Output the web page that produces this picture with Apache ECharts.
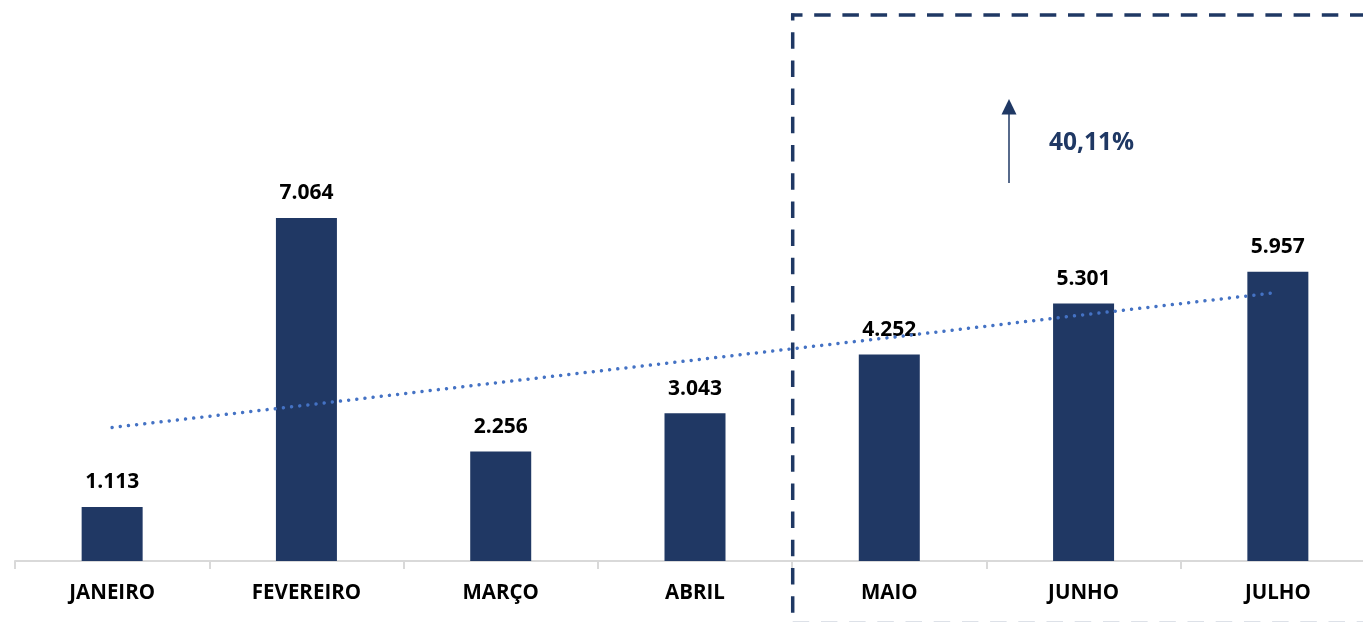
<!DOCTYPE html>
<html>
<head>
<meta charset="utf-8">
<script src="https://cdn.jsdelivr.net/npm/echarts@6/dist/echarts.min.js"></script>
<style>
html,body{margin:0;padding:0;background:#fff;}
#chart{width:1363px;height:622px;}
</style>
</head>
<body>
<div id="chart"></div>
<script>
var months = ['JANEIRO','FEVEREIRO','MARÇO','ABRIL','MAIO','JUNHO','JULHO'];
var values = [1.113, 7.064, 2.256, 3.043, 4.252, 5.301, 5.957];
var trendValues = [2.75, 3.21, 3.68, 4.14, 4.60, 5.07, 5.53];
var growthLabel = '40,11%';

function fmt(v){ return v.toFixed(3); }

var navy = '#1f3864';
var dash = [16.5, 11.7];

var chart = echarts.init(document.getElementById('chart'));
chart.setOption({
  animation: false,
  backgroundColor: '#ffffff',
  grid: { left: 15, right: -12, top: 172.5, bottom: 61, outerBoundsMode: 'none', containLabel: false },
  xAxis: {
    type: 'category',
    data: months,
    axisLine: { show: true, lineStyle: { color: '#d9d9d9', width: 2 } },
    axisTick: { show: true, length: 8, lineStyle: { color: '#d9d9d9', width: 2 } },
    axisLabel: { color: '#000', fontFamily: 'Open Sans', fontWeight: 'bold', fontSize: 20.5, margin: 22 }
  },
  yAxis: {
    type: 'value', min: 0, max: 8, show: false,
    splitLine: { show: false }
  },
  series: [
    {
      type: 'bar',
      data: values,
      barWidth: 61,
      itemStyle: { color: '#203864' },
      label: {
        show: true, position: 'top', distance: 14,
        color: '#000', fontFamily: 'Open Sans', fontWeight: 'bold', fontSize: 21,
        formatter: function(p){ return fmt(p.value); }
      },
      z: 2
    },
    {
      type: 'line',
      data: trendValues,
      symbol: 'none',
      silent: true,
      lineStyle: { color: '#4472C4', width: 3.5, type: [0.01, 8.2], cap: 'round' },
      z: 3
    }
  ],
  graphic: [
    {
      type: 'line',
      shape: { x1: 791, y1: 15, x2: 1380, y2: 15 },
      style: { stroke: navy, lineWidth: 3.5, lineDash: dash, lineDashOffset: 5 },
      z: 10
    },
    {
      type: 'line',
      shape: { x1: 792.7, y1: 13.5, x2: 792.7, y2: 640 },
      style: { stroke: navy, lineWidth: 3.5, lineDash: dash, lineDashOffset: 9.5 },
      z: 10
    },
    {
      type: 'line',
      shape: { x1: 792.7, y1: 623.6, x2: 1380, y2: 623.6 },
      style: { stroke: navy, lineWidth: 3.5, lineDash: dash, lineDashOffset: 0, opacity: 0.6 },
      z: 10
    },
    {
      type: 'line',
      shape: { x1: 1009, y1: 183, x2: 1009, y2: 112 },
      style: { stroke: navy, lineWidth: 1.5 },
      z: 10
    },
    {
      type: 'polygon',
      shape: { points: [[1001.5, 114.5], [1016.5, 114.5], [1009, 99]] },
      style: { fill: navy },
      z: 10
    },
    {
      type: 'text',
      left: 1049, top: 131,
      style: { text: growthLabel, fill: navy, font: 'bold 24.5px "Open Sans"' },
      z: 10
    }
  ]
});
</script>
</body>
</html>
